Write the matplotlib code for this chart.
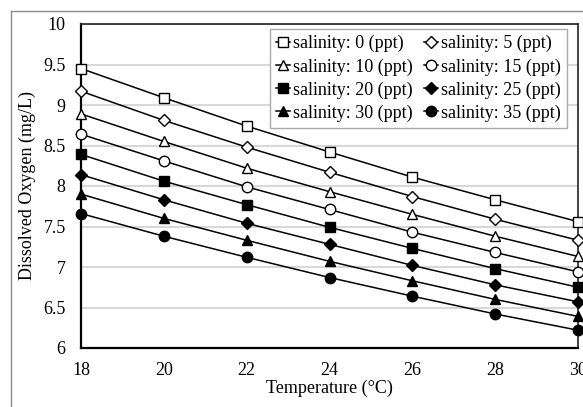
import matplotlib
matplotlib.use("Agg")
import matplotlib.pyplot as plt
from matplotlib.lines import Line2D

plt.rcParams['font.family'] = ['Liberation Serif', 'DejaVu Serif']

temperature = [18, 20, 22, 24, 26, 28, 30]
salinities = [0, 5, 10, 15, 20, 25, 30, 35]
do_values = {
    0:  [9.45, 9.09, 8.74, 8.42, 8.11, 7.83, 7.56],
    5:  [9.17, 8.81, 8.48, 8.17, 7.87, 7.59, 7.33],
    10: [8.89, 8.55, 8.22, 7.93, 7.65, 7.38, 7.13],
    15: [8.64, 8.31, 7.99, 7.71, 7.43, 7.18, 6.94],
    20: [8.39, 8.06, 7.77, 7.49, 7.23, 6.98, 6.75],
    25: [8.14, 7.83, 7.54, 7.28, 7.02, 6.78, 6.57],
    30: [7.90, 7.60, 7.33, 7.07, 6.83, 6.60, 6.39],
    35: [7.66, 7.38, 7.12, 6.87, 6.64, 6.42, 6.22],
}
markers = {0: ('s', 'white'), 5: ('D', 'white'), 10: ('^', 'white'), 15: ('o', 'white'),
           20: ('s', 'black'), 25: ('D', 'black'), 30: ('^', 'black'), 35: ('o', 'black')}
x_ticks = [18, 20, 22, 24, 26, 28, 30]
y_ticks = [6, 6.5, 7, 7.5, 8, 8.5, 9, 9.5, 10]
y_ticklabels = ['6', '6.5', '7', '7.5', '8', '8.5', '9', '9.5', '10']

fig = plt.figure(figsize=(5.83, 4.07), dpi=100)
ax = fig.add_axes([81/583, 1-348/407, 497/583, 324/407])

handles = {}
for s in salinities:
    m, fc = markers[s]
    ms = 6 if m == 'D' else 7.5
    h, = ax.plot(temperature, do_values[s], color='black', lw=1.1, marker=m,
                 markersize=ms, markerfacecolor=fc, markeredgecolor='black',
                 markeredgewidth=1.0, label=f'salinity: {s} (ppt)', zorder=3, clip_on=False)
    handles[s] = h

ax.set_xlim(18, 30)
ax.set_ylim(6, 10)
ax.set_xticks(x_ticks)
ax.set_yticks(y_ticks)
ax.set_yticklabels(y_ticklabels)
ax.yaxis.grid(True, color='#d8d8d8', lw=1.5)
ax.set_axisbelow(True)
ax.tick_params(length=0, labelsize=13, pad=11)
ax.tick_params(axis='x', pad=10)
for side in ['left', 'bottom']:
    ax.spines[side].set_linewidth(1.6)
for side in ['top', 'right']:
    ax.spines[side].set_linewidth(1.2)
    ax.spines[side].set_color('#222222')

ax.set_xlabel('Temperature (°C)', fontsize=13, labelpad=0.5)
ax.set_ylabel('Dissolved Oxygen (mg/L)', fontsize=13, labelpad=5)

order = [0, 10, 20, 30, 5, 15, 25, 35]
leg = ax.legend([handles[s] for s in order], [f'salinity: {s} (ppt)' for s in order],
                ncol=2, loc='upper right', bbox_to_anchor=(0.978, 0.985),
                fontsize=13, frameon=True, fancybox=False, framealpha=1,
                edgecolor='#aaaaaa', handlelength=0.8, handletextpad=0.15,
                columnspacing=0.6, labelspacing=0.32, borderpad=0.35, borderaxespad=0)
leg.get_frame().set_linewidth(1.0)

# outer chart frame
fx = 11/583
fy = 1 - 11/407
fig.add_artist(Line2D([fx, fx], [0, fy], transform=fig.transFigure, color='#8a8a8a', lw=1.0))
fig.add_artist(Line2D([fx, 1], [fy, fy], transform=fig.transFigure, color='#8a8a8a', lw=1.0))

fig.savefig('out.png', dpi=100)
